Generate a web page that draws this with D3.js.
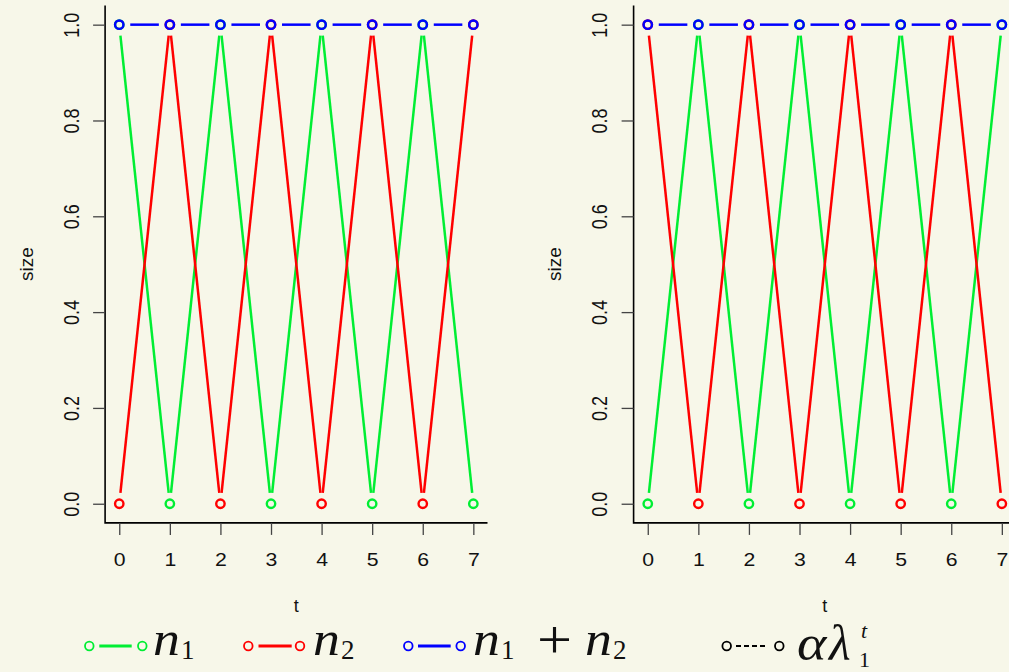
<!DOCTYPE html>
<html><head><meta charset="utf-8">
<script src="https://cdn.jsdelivr.net/npm/d3@7/dist/d3.min.js"></script>
<style>
html,body{margin:0;padding:0;background:#f7f7e9;}
svg{display:block;}
.math{font-family:"Liberation Serif","Times New Roman",serif;}
</style></head>
<body>
<svg id="chart" width="1009" height="672"></svg>
<script>
// ---- data ----
const tValues = [0, 1, 2, 3, 4, 5, 6, 7];
const leftN1 = [1, 0, 1, 0, 1, 0, 1, 0];
const leftN2 = [0, 1, 0, 1, 0, 1, 0, 1];
const leftTotal = [1, 1, 1, 1, 1, 1, 1, 1];
const rightN1 = [0, 1, 0, 1, 0, 1, 0, 1];
const rightN2 = [1, 0, 1, 0, 1, 0, 1, 0];
const rightTotal = [1, 1, 1, 1, 1, 1, 1, 1];
const yTickValues = [0, 0.2, 0.4, 0.6, 0.8, 1.0];
const xTickValues = [0, 1, 2, 3, 4, 5, 6, 7];
const xLabel = "t";
const yLabel = "size";
const seriesColors = {n1: "#00ee33", n2: "#ff0000", total: "#0000ff", model: "#000000"};

const svg = d3.select("#chart");
const bg = "#f7f7e9";
svg.append("rect").attr("width", 1009).attr("height", 672).attr("fill", bg);

const plotTop = 5.5, plotBottom = 522.9, plotWidth = 382.4;
const y = d3.scaleLinear().domain([-0.04, 1.04]).range([plotBottom, plotTop]);
const GAP = 11;
const sans = "'Liberation Sans', Arial, sans-serif";

function drawPanel(left, series) {
  const x = d3.scaleLinear().domain([-0.28, 7.28]).range([left, left + plotWidth]);
  const g = svg.append("g");

  // series (type "b": lines with gaps around points)
  series.forEach(s => {
    const pts = tValues.map((t, i) => [x(t), y(s.values[i])]);
    const segs = [];
    for (let i = 0; i < pts.length - 1; i++) {
      const [x1, y1] = pts[i], [x2, y2] = pts[i + 1];
      const dx = x2 - x1, dy = y2 - y1, L = Math.hypot(dx, dy);
      if (L <= 2 * GAP) continue;
      const ux = dx / L, uy = dy / L;
      segs.push([[x1 + ux * GAP, y1 + uy * GAP], [x2 - ux * GAP, y2 - uy * GAP]]);
    }
    g.append("g").selectAll("line").data(segs).join("line")
      .attr("x1", d => d[0][0]).attr("y1", d => d[0][1])
      .attr("x2", d => d[1][0]).attr("y2", d => d[1][1])
      .attr("stroke", s.color).attr("stroke-width", 2.5);
    g.append("g").selectAll("circle").data(pts).join("circle")
      .attr("cx", d => d[0]).attr("cy", d => d[1]).attr("r", 4.2)
      .attr("fill", "none").attr("stroke", s.color).attr("stroke-width", 2.4);
  });

  // L-shaped box
  g.append("path")
    .attr("d", `M${left},${plotTop}V${plotBottom}H${left + plotWidth}`)
    .attr("fill", "none").attr("stroke", "#000").attr("stroke-width", 1.6);

  // x axis
  const xa = g.append("g").attr("transform", `translate(0,${plotBottom})`)
    .call(d3.axisBottom(x).tickValues(xTickValues).tickSize(12).tickFormat(d3.format("d")));
  xa.select(".domain").remove();
  xa.selectAll("line").attr("stroke", "#444").attr("stroke-width", 1.3);
  xa.selectAll("text").attr("font-family", sans)
    .attr("font-size", 18).attr("fill", "#111").attr("dy", null).attr("y", null)
    .attr("transform", "translate(0,43) scale(1.18,1)");

  // y axis
  const ya = g.append("g").attr("transform", `translate(${left},0)`)
    .call(d3.axisLeft(y).tickValues(yTickValues).tickSize(12).tickFormat(d3.format(".1f")));
  ya.select(".domain").remove();
  ya.selectAll("line").attr("stroke", "#444").attr("stroke-width", 1.3);
  ya.selectAll("text")
    .attr("font-family", sans).attr("font-size", 18).attr("fill", "#111")
    .attr("x", null).attr("dy", null).attr("text-anchor", "middle")
    .attr("transform", "translate(-26.6,0) rotate(-90) scale(1,1.2)");

  // axis titles
  g.append("text").attr("x", left + plotWidth / 2).attr("y", plotBottom + 89)
    .attr("text-anchor", "middle").attr("font-family", sans)
    .attr("font-size", 18).attr("fill", "#111").text(xLabel);
  g.append("text").attr("transform", `translate(${left - 72.5},${(plotTop + plotBottom) / 2}) rotate(-90)`)
    .attr("text-anchor", "middle").attr("font-family", sans)
    .attr("font-size", 19).attr("fill", "#111").text(yLabel);
}

drawPanel(105.1, [
  {values: leftN1, color: seriesColors.n1},
  {values: leftN2, color: seriesColors.n2},
  {values: leftTotal, color: seriesColors.total}
]);
drawPanel(633.6, [
  {values: rightN1, color: seriesColors.n1},
  {values: rightN2, color: seriesColors.n2},
  {values: rightTotal, color: seriesColors.total}
]);

// ---- legend ----
const lg = svg.append("g");
const legY = 646;
const legendKeys = [
  {c1: 89.3, c2: 142.3, l1: 99.3, l2: 131.7, color: seriesColors.n1, dash: null, w: 3},
  {c1: 248.3, c2: 300, l1: 258.5, l2: 291.7, color: seriesColors.n2, dash: null, w: 3},
  {c1: 408.3, c2: 460.7, l1: 418, l2: 450.7, color: seriesColors.total, dash: null, w: 3},
  {c1: 726.7, c2: 779.3, l1: 736, l2: 767, color: seriesColors.model, dash: "5,3", w: 2.2}
];
legendKeys.forEach(k => {
  lg.append("line").attr("x1", k.l1).attr("x2", k.l2).attr("y1", legY).attr("y2", legY)
    .attr("stroke", k.color).attr("stroke-width", k.w).attr("stroke-dasharray", k.dash);
  [k.c1, k.c2].forEach(cx => lg.append("circle").attr("cx", cx).attr("cy", legY).attr("r", 4.3)
    .attr("fill", "none").attr("stroke", k.color).attr("stroke-width", 1.8));
});

function mathText(parts) {
  parts.forEach(p => {
    lg.append("text").attr("class", "math").attr("fill", "#111")
      .attr("x", p.x).attr("y", p.y).attr("font-size", p.size)
      .attr("font-style", p.italic ? "italic" : "normal")
      .attr("transform", p.sx ? `translate(${p.x},0) scale(${p.sx},1) translate(${-p.x},0)` : null)
      .text(p.s);
  });
}
mathText([{s: "n", x: 153, y: 655, size: 48, italic: true, sx: 1.12}, {s: "1", x: 181, y: 659, size: 27}]);
mathText([{s: "n", x: 313, y: 655, size: 48, italic: true, sx: 1.12}, {s: "2", x: 341, y: 659, size: 27}]);
mathText([{s: "n", x: 473, y: 655, size: 48, italic: true, sx: 1.12}, {s: "1", x: 501, y: 659, size: 27},
          {s: "+", x: 537, y: 658, size: 54, sx: 1.15}, {s: "n", x: 585, y: 655, size: 48, italic: true, sx: 1.12},
          {s: "2", x: 613, y: 659, size: 27}]);
mathText([{s: "α", x: 797, y: 660, size: 50, italic: true, sx: 1.12}, {s: "λ", x: 829, y: 660, size: 50, italic: true},
          {s: "t", x: 861, y: 638, size: 22, italic: true}, {s: "1", x: 859, y: 667, size: 22}]);
</script>
</body></html>
